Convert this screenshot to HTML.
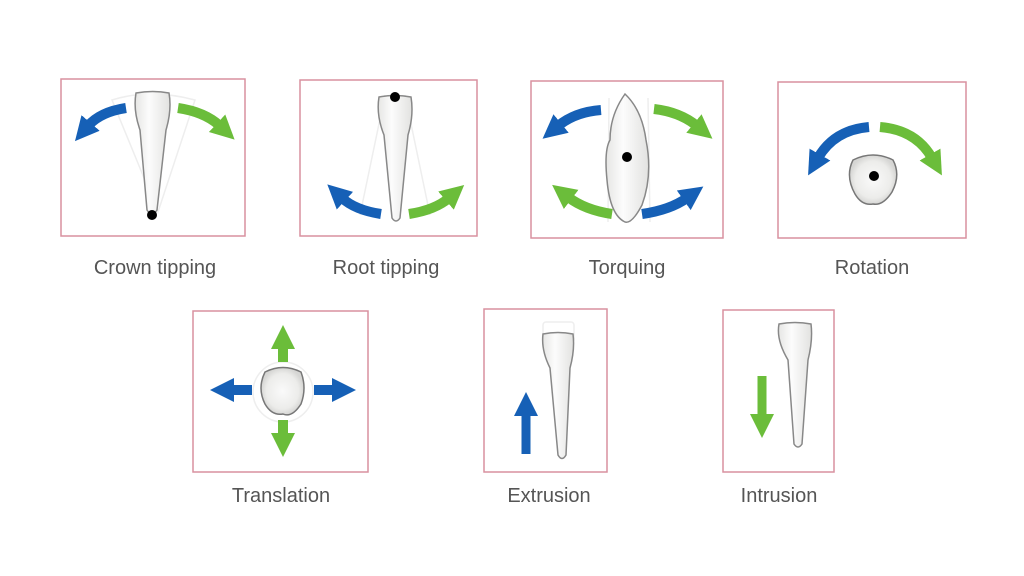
<!DOCTYPE html>
<html><head><meta charset="utf-8"><style>
html,body{margin:0;padding:0;background:#fff;}
svg{display:block}
text{font-family:"Liberation Sans",sans-serif;font-size:20px;fill:#555;text-anchor:middle}
</style></head><body>
<svg width="1024" height="576" viewBox="0 0 1024 576" xmlns="http://www.w3.org/2000/svg">
<defs>
<marker id="hb" markerUnits="userSpaceOnUse" markerWidth="30" markerHeight="30" refX="4" refY="15" orient="auto"><path d="M0,3 L24,15 L0,27 Z" fill="#1660b6"/></marker>
<marker id="hg" markerUnits="userSpaceOnUse" markerWidth="30" markerHeight="30" refX="4" refY="15" orient="auto"><path d="M0,3 L24,15 L0,27 Z" fill="#6bbd3a"/></marker>
<linearGradient id="tg" x1="0" x2="1"><stop offset="0" stop-color="#e6e6e4"/><stop offset="0.4" stop-color="#fcfcfc"/><stop offset="1" stop-color="#e2e2e0"/></linearGradient>
<radialGradient id="cg"><stop offset="0" stop-color="#fafafa"/><stop offset="0.75" stop-color="#ececea"/><stop offset="1" stop-color="#d6d6d4"/></radialGradient>
</defs>
<g fill="none" stroke="#d9919f" stroke-width="1.5">
<rect x="61" y="79" width="184" height="157"/>
<rect x="300" y="80" width="177" height="156"/>
<rect x="531" y="81" width="192" height="157"/>
<rect x="778" y="82" width="188" height="156"/>
<rect x="193" y="311" width="175" height="161"/>
<rect x="484" y="309" width="123" height="163"/>
<rect x="723" y="310" width="111" height="162"/>
</g>
<g fill="none" stroke="#eeeeee" stroke-width="1.5">
<path d="M112,100 Q150,88 195,100 L158,212 Z"/>
<path d="M385,95 L360,215 M405,95 L430,215"/>
<path d="M609,98 L608,222 M648,98 L650,222"/>
<circle cx="283" cy="392" r="30"/>
<rect x="543" y="322" width="31" height="20" rx="3"/>
</g>
<g stroke="#888" stroke-width="1.5" fill="url(#tg)">
<path d="M136,93 Q153,90 169,93 Q172,110 166,130 L157,210 Q152,218 147,210 L140,130 Q133,110 136,93 Z"/>
<path d="M379,97 Q395,94 411,97 Q414,115 408,135 L400,218 Q396,224 392,218 L384,135 Q376,115 379,97 Z"/>
<path d="M625,94 Q642,110 646,140 Q653,175 642,205 Q632,224 625,222 Q610,215 607,180 Q604,150 610,140 Q610,115 625,94 Z"/>
<path d="M543,334 Q558,331 573,334 Q575,350 570,368 L566,455 Q562,462 558,455 L550,368 Q541,350 543,334 Z"/>
<path d="M779,324 Q795,321 811,324 Q813,340 808,360 L802,444 Q798,450 794,444 L788,360 Q776,340 779,324 Z"/>
</g>
<g stroke="#777" stroke-width="1.5" fill="url(#cg)">
<path d="M853,160 Q873,150 893,160 Q901,175 892,192 Q883,206 873,204 Q862,206 855,194 Q845,176 853,160 Z"/>
<path d="M265,372 Q283,363 301,372 Q307,388 301,404 Q292,418 283,414 Q272,416 265,404 Q257,388 265,372 Z"/>
</g>
<g fill="#000">
<circle cx="152" cy="215" r="5"/>
<circle cx="395" cy="97" r="5"/>
<circle cx="627" cy="157" r="5"/>
<circle cx="874" cy="176" r="5"/>
</g>
<g fill="none" stroke-width="10">
<path d="M126,108 Q100,112 88,126" stroke="#1660b6" marker-end="url(#hb)"/>
<path d="M178,108 Q205,112 220,126" stroke="#6bbd3a" marker-end="url(#hg)"/>
<path d="M381,214 Q355,210 342,198" stroke="#1660b6" marker-end="url(#hb)"/>
<path d="M409,214 Q435,210 449,198" stroke="#6bbd3a" marker-end="url(#hg)"/>
<path d="M601,110 Q575,112 558,126" stroke="#1660b6" marker-end="url(#hb)"/>
<path d="M654,109 Q680,112 697,126" stroke="#6bbd3a" marker-end="url(#hg)"/>
<path d="M612,214 Q585,210 568,197" stroke="#6bbd3a" marker-end="url(#hg)"/>
<path d="M642,214 Q670,210 687,198" stroke="#1660b6" marker-end="url(#hb)"/>
<path d="M869,127 Q834,130 818,158" stroke="#1660b6" marker-end="url(#hb)"/>
<path d="M880,127 Q916,130 932,158" stroke="#6bbd3a" marker-end="url(#hg)"/>
<path d="M283,362 L283,345" stroke="#6bbd3a" marker-end="url(#hg)"/>
<path d="M283,420 L283,437" stroke="#6bbd3a" marker-end="url(#hg)"/>
<path d="M252,390 L230,390" stroke="#1660b6" marker-end="url(#hb)"/>
<path d="M314,390 L336,390" stroke="#1660b6" marker-end="url(#hb)"/>
<path d="M526,454 L526,412" stroke="#1660b6" marker-end="url(#hb)" stroke-width="9"/>
<path d="M762,376 L762,418" stroke="#6bbd3a" marker-end="url(#hg)" stroke-width="9"/>
</g>
<text x="155" y="274">Crown tipping</text>
<text x="386" y="274">Root tipping</text>
<text x="627" y="274">Torquing</text>
<text x="872" y="274">Rotation</text>
<text x="281" y="502">Translation</text>
<text x="549" y="502">Extrusion</text>
<text x="779" y="502">Intrusion</text>
</svg>
</body></html>
